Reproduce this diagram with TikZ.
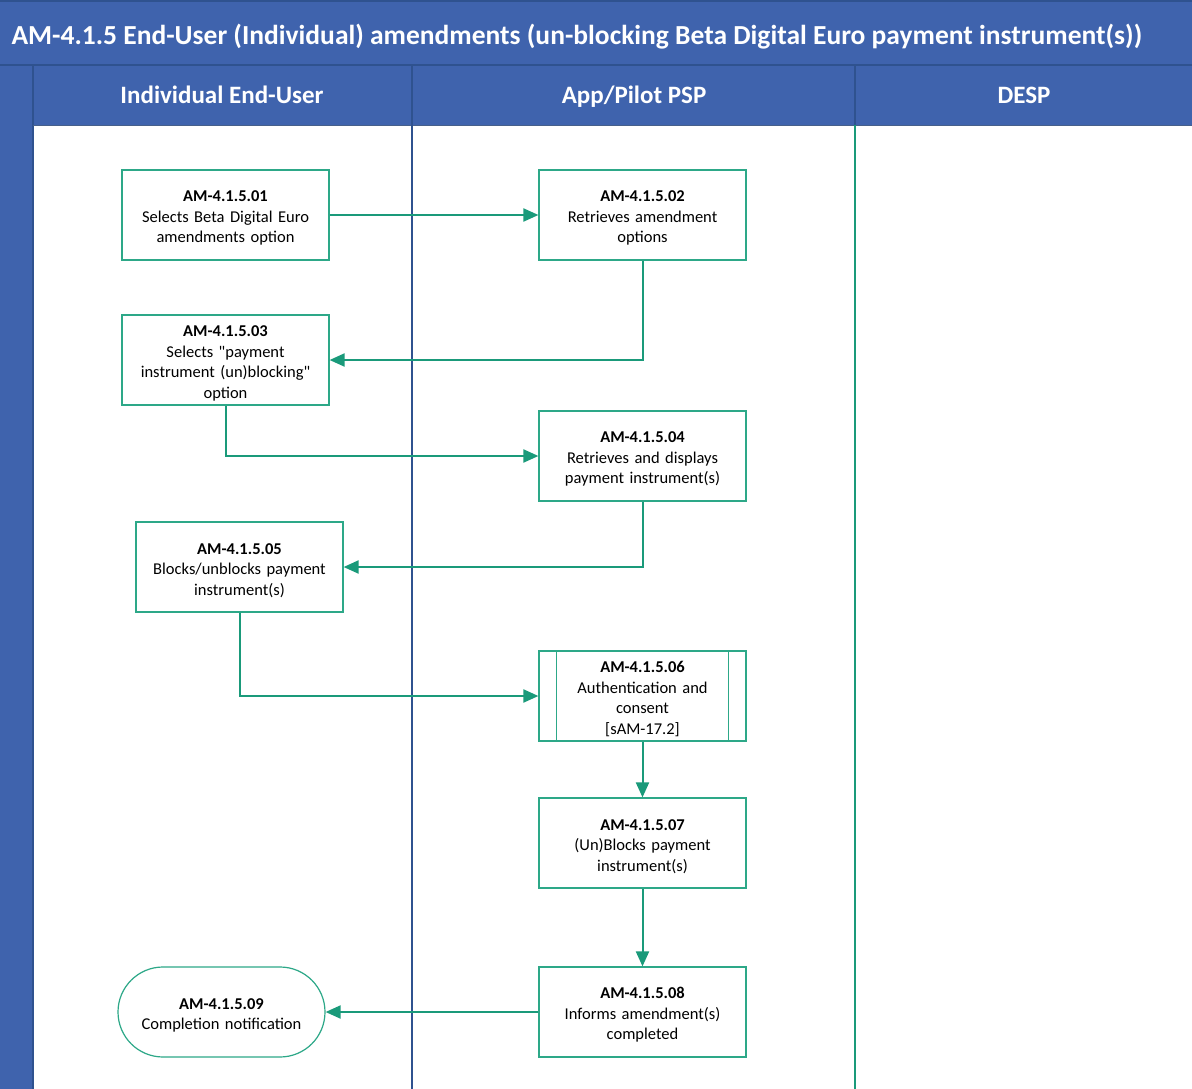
\documentclass[tikz,border=0pt]{standalone}
\usepackage{fontspec}
\setmainfont{Carlito}
\usetikzlibrary{arrows.meta}
\definecolor{laneblue}{RGB}{63,99,173}
\definecolor{laneedge}{RGB}{47,82,143}
\definecolor{flowteal}{RGB}{26,154,122}
\definecolor{boxteal}{RGB}{45,168,136}
\tikzset{
  stepbox/.style={draw=boxteal, line width=1.2pt, fill=white, minimum width=207pt,
    minimum height=90pt, inner sep=0pt, align=center, text width=205pt,
    font=\fontsize{16.5}{20.5}\selectfont, execute at begin node={\rule{0pt}{17.5pt}}},
  endbox/.style={stepbox, rounded corners=45pt},
  flow/.style={draw=flowteal, line width=2pt, -{Triangle[length=15pt,width=13pt]}},
  lanehead/.style={text=white, anchor=base, font=\bfseries\fontsize{25}{28}\selectfont},
}
\begin{document}
\begin{tikzpicture}[x=1pt,y=-1pt]
\useasboundingbox (0,0) rectangle (1192,1089);
% pool frame, title bar and lane headers
\fill[laneblue] (0,0) rectangle (1192,1089);
\fill[white] (33,125) rectangle (1192,1089);
\draw[laneedge, line width=1.2pt] (0,1) -- (1192,1);
\draw[laneedge, line width=1.2pt] (0,65) -- (1192,65);
\draw[laneedge, line width=1.2pt] (33,65) -- (33,1089);
\draw[laneedge!70!gray, line width=0.8pt] (33,125) -- (1192,125);
\node[anchor=base west, text=white, font=\bfseries\fontsize{27.5}{30}\selectfont] (title) at (8,45)
  {AM-4.1.5 End-User (Individual) amendments (un-blocking Beta Digital Euro payment instrument(s))};
\node[lanehead] (h1) at (222,104) {Individual End-User};
\node[lanehead] (h2) at (634,104) {App/Pilot PSP};
\node[lanehead] (h3) at (1024,104) {DESP};
% lane separators
\draw[laneedge, line width=1.2pt] (412,65) -- (412,1089);
\draw[laneedge, line width=1.2pt] (855,65) -- (855,125);
\draw[flowteal, line width=1.2pt] (855,125) -- (855,1089);
% process steps
\node[stepbox] (n1) at (225.5,215) {\textbf{AM-4.1.5.01}\\Selects Beta Digital Euro\\amendments option};
\node[stepbox] (n2) at (642.5,215) {\textbf{AM-4.1.5.02}\\Retrieves amendment\\options};
\node[stepbox] (n3) at (225.5,360) {\textbf{AM-4.1.5.03}\\Selects \textquotedbl payment\\instrument (un)blocking\textquotedbl\\option};
\node[stepbox] (n4) at (642.5,456) {\textbf{AM-4.1.5.04}\\Retrieves and displays\\payment instrument(s)};
\node[stepbox] (n5) at (239.5,567) {\textbf{AM-4.1.5.05}\\Blocks/unblocks payment\\instrument(s)};
\node[stepbox] (n6) at (642.5,696) {\textbf{AM-4.1.5.06}\\Authentication and\\consent\\{[sAM-17.2]}};
\draw[boxteal, line width=1.2pt] ([xshift=18pt]n6.north west) -- ([xshift=18pt]n6.south west);
\draw[boxteal, line width=1.2pt] ([xshift=-18pt]n6.north east) -- ([xshift=-18pt]n6.south east);
\node[stepbox] (n7) at (642.5,843) {\textbf{AM-4.1.5.07}\\(Un)Blocks payment\\instrument(s)};
\node[stepbox] (n8) at (642.5,1012) {\textbf{AM-4.1.5.08}\\Informs amendment(s)\\completed};
\node[endbox] (n9) at (221.5,1012) {\textbf{AM-4.1.5.09}\\Completion notification};
% sequence flows
\draw[flow] (n1.east) -- (n2.west);
\draw[flow] (n2.south) |- (n3.east);
\draw[flow] (n3.south) |- (n4.west);
\draw[flow] (n4.south) |- (n5.east);
\draw[flow] (n5.south) |- (n6.west);
\draw[flow] (n6.south) -- (n7.north);
\draw[flow] (n7.south) -- (n8.north);
\draw[flow] (n8.west) -- (n9.east);
\end{tikzpicture}
\end{document}
